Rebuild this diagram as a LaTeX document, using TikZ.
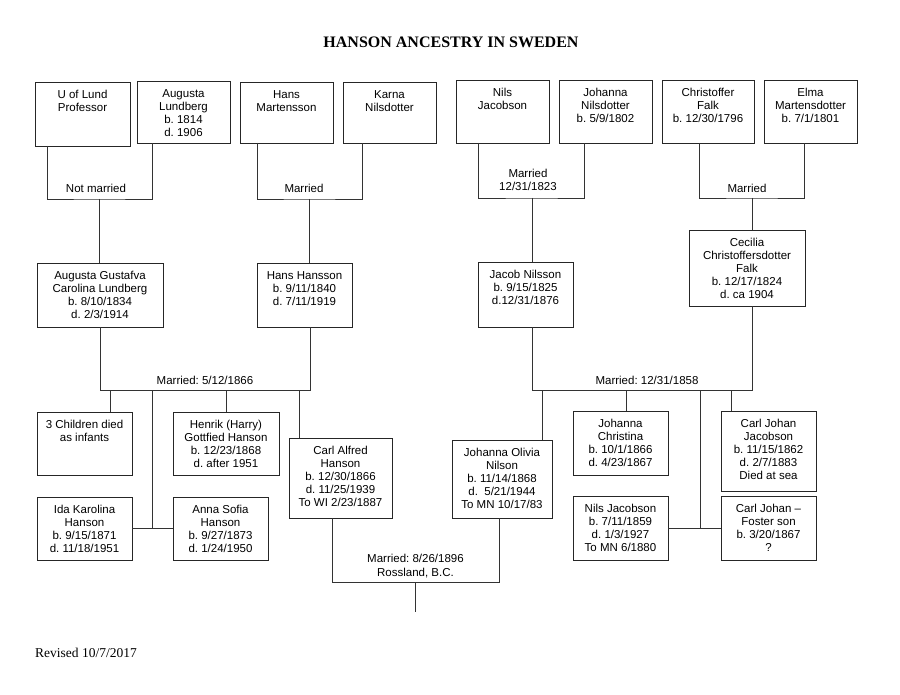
\documentclass[tikz,border=0pt]{standalone}
\usepackage{fontspec}
\setmainfont{Liberation Serif}
\newfontfamily\arialf{Liberation Sans}
\frenchspacing
\tikzset{
  boxst/.style={draw=black!85, line width=0.8pt, inner sep=0pt, outer sep=0pt},
  txt/.style={font=\arialf\fontsize{11.5}{13}\selectfont, align=center, inner sep=0pt, text=black},
  lbl/.style={font=\arialf\fontsize{11.5}{13}\selectfont, inner sep=0pt, anchor=base, text=black},
  wire/.style={draw=black!80, line width=0.8pt}
}
\newcommand{\pbox}[6]{%
  \node[boxst, anchor=north west, minimum width={(#4-#2)*1pt}, minimum height={(#5-#3)*1pt}] (#1) at (#2,#3) {};
  \node[txt, anchor=north] (#1t) at ([yshift=-8pt]#1.north) {#6};}
\begin{document}
\frenchspacing
\begin{tikzpicture}[x=1pt,y=-1pt]
\path[use as bounding box, fill=white] (0,0) rectangle (900,695);
% title and footer
\node[font=\bfseries\fontsize{16}{19}\selectfont, anchor=base, inner sep=0pt] (title) at (451,48) {HANSON ANCESTRY IN SWEDEN};
\node[font=\fontsize{13.5}{16}\selectfont, anchor=base west, inner sep=0pt] (rev) at (35,657) {Revised 10/7/2017};
% top row
\pbox{ul}{35}{82}{130}{146}{U of Lund\\Professor}
\pbox{al}{137}{81}{230}{143}{Augusta\\Lundberg\\b. 1814\\d. 1906}
\pbox{hm}{240}{82}{333}{143}{Hans\\Martensson}
\pbox{kn}{343}{82}{436}{143}{Karna\\Nilsdotter}
\pbox{nj}{456}{80}{549}{143}{Nils\\Jacobson}
\pbox{jn}{559}{80}{652}{143}{Johanna\\Nilsdotter\\b. 5/9/1802}
\pbox{cf}{662}{80}{754}{143}{Christoffer\\Falk\\b. 12/30/1796}
\pbox{em}{764}{80}{857}{143}{Elma\\Martensdotter\\b. 7/1/1801}
% second row
\pbox{ag}{37}{263}{163}{327}{Augusta Gustafva\\Carolina Lundberg\\b. 8/10/1834\\d. 2/3/1914}
\pbox{hh}{257}{263}{352}{327}{Hans Hansson\\b. 9/11/1840\\d. 7/11/1919}
\pbox{jni}{478}{262}{573}{327}{Jacob Nilsson\\b. 9/15/1825\\d.12/31/1876}
\pbox{cc}{689}{230}{805}{306}{Cecilia\\Christoffersdotter\\Falk\\b. 12/17/1824\\d. ca 1904}
% children rows
\pbox{c3}{37}{412}{132}{475}{3 Children died\\as infants}
\pbox{hg}{173}{412}{279}{475}{Henrik (Harry)\\Gottfied Hanson\\b. 12/23/1868\\d. after 1951}
\pbox{ca}{289}{438}{392}{518}{Carl Alfred\\Hanson\\b. 12/30/1866\\d. 11/25/1939\\To WI 2/23/1887}
\pbox{ik}{37}{497}{132}{560}{Ida Karolina\\Hanson\\b. 9/15/1871\\d. 11/18/1951}
\pbox{as}{173}{497}{268}{560}{Anna Sofia\\Hanson\\b. 9/27/1873\\d. 1/24/1950}
\pbox{jo}{452}{440}{552}{518}{Johanna Olivia\\Nilson\\b. 11/14/1868\\d.\ \ 5/21/1944\\To MN 10/17/83}
\pbox{jc}{573}{411}{668}{475}{Johanna\\Christina\\b. 10/1/1866\\d. 4/23/1867}
\pbox{cj}{721}{411}{816}{491}{Carl Johan\\Jacobson\\b. 11/15/1862\\d. 2/7/1883\\Died at sea}
\pbox{nn}{573}{496}{668}{560}{Nils Jacobson\\b. 7/11/1859\\d. 1/3/1927\\To MN 6/1880}
\pbox{fs}{721}{496}{816}{560}{Carl Johan –\\Foster son\\b. 3/20/1867\\?}
% junction coordinates
\coordinate (m1) at (99,199);
\coordinate (m2) at (309,199);
\coordinate (m3) at (532,198);
\coordinate (m4) at (752,198);
\coordinate (h5l) at (100,390);
\coordinate (h5r) at (310,390);
\coordinate (h6l) at (532,390);
\coordinate (h6r) at (752,390);
\coordinate (k1) at (110,390);
\coordinate (k2) at (152,390);
\coordinate (k3) at (226,390);
\coordinate (k4) at (299,390);
\coordinate (k5) at (542,390);
\coordinate (k6) at (626,390);
\coordinate (k7) at (700,390);
\coordinate (k8) at (731,390);
\coordinate (h7l) at (332,582);
\coordinate (h7r) at (499,582);
\coordinate (m7) at (415,582);
\coordinate (end7) at (415,612);
% parent couples
\draw[wire] ([xshift=12]ul.south west) |- (m1) -| ([xshift=15]al.south west);
\draw[wire] (m1) -- (ag.north -| m1);
\node[lbl] (l1) at (96,193) {Not married};
\draw[wire] ([xshift=17]hm.south west) |- (m2) -| ([xshift=19]kn.south west);
\draw[wire] (m2) -- (hh.north -| m2);
\node[lbl] (l2) at (304,193) {Married};
\draw[wire] ([xshift=22]nj.south west) |- (m3) -| ([xshift=25]jn.south west);
\draw[wire] (m3) -- (jni.north -| m3);
\node[lbl] (l3a) at (528,178) {Married};
\node[lbl] (l3b) at (528,190.5) {12/31/1823};
\draw[wire] ([xshift=37]cf.south west) |- (m4) -| ([xshift=40]em.south west);
\draw[wire] (m4) -- (cc.north -| m4);
\node[lbl] (l4) at (747,193) {Married};
% Hansson family
\draw[wire] (ag.south -| h5l) -- (h5l) -- (h5r) -- (hh.south -| h5r);
\node[lbl] (l5) at (205,384) {Married: 5/12/1866};
\draw[wire] (k1) -- (c3.north -| k1);
\draw[wire] (k2) -- (k2 |- ik.east);
\draw[wire] (ik.east) -- (as.west);
\draw[wire] (k3) -- (hg.north -| k3);
\draw[wire] (k4) -- (ca.north -| k4);
% Nilsson family
\draw[wire] (jni.south -| h6l) -- (h6l) -- (h6r) -- (cc.south -| h6r);
\node[lbl] (l6) at (647,384) {Married: 12/31/1858};
\draw[wire] (k5) -- (jo.north -| k5);
\draw[wire] (k6) -- (jc.north -| k6);
\draw[wire] (k7) -- (k7 |- nn.east);
\draw[wire] (nn.east) -- (fs.west);
\draw[wire] (k8) -- (cj.north -| k8);
% final marriage
\draw[wire] (ca.south -| h7l) -- (h7l) -- (h7r) -- (jo.south -| h7r);
\draw[wire] (m7) -- (end7);
\node[lbl] (l7a) at (415.5,562) {Married: 8/26/1896};
\node[lbl] (l7b) at (415.5,576) {Rossland, B.C.};
\end{tikzpicture}
\end{document}
